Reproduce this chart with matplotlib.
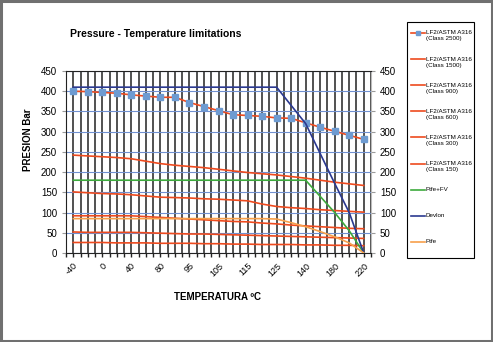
import matplotlib
matplotlib.use("Agg")
import matplotlib.pyplot as plt
from matplotlib.lines import Line2D
from matplotlib.patches import Rectangle
import numpy as np

plt.rcParams['font.family'] = ['Liberation Sans', 'DejaVu Sans']

# categories (only every second one is labelled on the axis)
temps = ["-40", "-20", "0", "20", "40", "60", "80", "90", "95", "100", "105",
         "110", "115", "120", "125", "130", "140", "160", "180", "200", "220"]

class_2500 = [400, 399, 397, 395, 391, 388, 385, 385, 372, 362, 352,
              342, 340, 338, 334, 333, 322, 311, 301, 291, 281]
class_1500 = [242, 240, 238, 236, 233, 227, 221, 217, 214, 211, 207,
              203, 199, 196, 193, 189, 185, 180, 175, 171, 167]
class_900 = [151, 149, 147, 146, 144, 141, 138, 137, 136, 134, 133,
             131, 129, 121, 115, 112, 110, 107, 105, 103, 101]
class_600 = [92, 92, 92, 92, 92, 90, 88, 86, 84, 82, 80,
             78, 77, 74, 72, 69, 67, 65, 63, 61, 60]
class_300 = [52, 51, 51, 51, 51, 50, 49, 48, 47, 47, 46,
             45, 44, 43, 42, 41, 40, 39, 38, 37, 36]
class_150 = [26, 26, 26, 25, 25, 25, 24, 24, 24, 23, 23,
             22, 22, 21, 21, 21, 20, 20, 19, 19, 18]
ptfe_fv = [180, 180, 180, 180, 180, 180, 180, 180, 180, 180, 180,
           180, 180, 180, 180, 180, 180, 140, 100, 55, 0]
devlon = [410, 410, 410, 410, 410, 410, 410, 410, 410, 410, 410,
          410, 410, 410, 410, 365, 320, 246, 172, 100, 0]
ptfe = [85, 85, 85, 85, 85, 85, 85, 85, 85, 85, 85,
        85, 85, 85, 84, 75, 65, 53, 40, 25, 0]

RED = "#EE4A1E"
series = [
    ("LF2/ASTM A316", "(Class 2500)", class_2500, RED),
    ("LF2/ASTM A316", "(Class 1500)", class_1500, RED),
    ("LF2/ASTM A316", "(Class 900)", class_900, RED),
    ("LF2/ASTM A316", "(Class 600)", class_600, RED),
    ("LF2/ASTM A316", "(Class 300)", class_300, RED),
    ("LF2/ASTM A316", "(Class 150)", class_150, RED),
    ("Ptfe+FV", None, ptfe_fv, "#3DAA3D"),
    ("Devlon", None, devlon, "#2B3990"),
    ("Ptfe", None, ptfe, "#F7A04B"),
]
MARKER_COLOR = "#6E9BD1"

W, H = 493, 342
fig = plt.figure(figsize=(W / 100, H / 100), dpi=100)
ax = fig.add_axes([66 / W, 1 - 253 / H, 305 / W, 182 / H])

x = np.arange(len(temps))
for i, (l1, l2, vals, col) in enumerate(series):
    if i == 0:
        ax.plot(x, vals, color=col, lw=1.2, marker="s", ms=4.2,
                mfc=MARKER_COLOR, mec=MARKER_COLOR, zorder=3)
    else:
        ax.plot(x, vals, color=col, lw=1.2, zorder=3)

ax.set_xlim(-0.5, len(temps) - 0.5)
ax.set_ylim(0, 450)
ax.set_xticks(x[::2])
ax.set_xticklabels(temps[::2], rotation=45, ha="right", rotation_mode="anchor",
                   fontsize=6.5)
ax.set_xticks(np.arange(-0.5, len(temps), 0.5), minor=True)
ax.set_yticks(np.arange(0, 451, 50))
ax.tick_params(axis="y", labelsize=7, length=3, labelright=True, right=True,
               colors="black")
ax.tick_params(axis="y", which="both", right=True, color="#999999")
ax.tick_params(axis="x", which="both", length=3, width=1, color="#222222")
ax.tick_params(axis="x", which="major", pad=3)

ax.grid(axis="x", which="both", color="#222222", lw=1.1)
ax.grid(axis="y", which="major", color="#7090D0", lw=0.8)
ax.set_axisbelow(True)

for s in ["left", "bottom", "top"]:
    ax.spines[s].set_color("#222222")
ax.spines["right"].set_color("#BBBBBB")

fig.text(70 / W, 1 - 34 / H, "Pressure - Temperature limitations",
         fontsize=7.5, fontweight="bold", va="center", ha="left")
fig.text(218 / W, 1 - 297 / H, "TEMPERATURA ºC", fontsize=7,
         fontweight="bold", ha="center", va="center")
fig.text(28 / W, 1 - 140 / H, "PRESION Bar", fontsize=7, fontweight="bold",
         rotation=90, ha="center", va="center")

# legend box drawn by hand (Excel style spacing)
fig.patches.append(Rectangle((407 / W, 1 - 258 / H), 67 / W, 236 / H,
                             transform=fig.transFigure, fill=False,
                             edgecolor="black", lw=0.8))
for i, (l1, l2, vals, col) in enumerate(series):
    yy = 1 - (33 + 26.1 * i) / H
    fig.lines.append(Line2D([411 / W, 425 / W], [yy, yy], color=col, lw=1.2,
                            transform=fig.transFigure))
    if i == 0:
        fig.lines.append(Line2D([418 / W], [yy], marker="s", ms=2.5,
                                color=MARKER_COLOR, transform=fig.transFigure))
    fig.text(426 / W, yy, l1, fontsize=4.5, va="center", ha="left")
    if l2:
        fig.text(426 / W, yy - 6 / H, l2, fontsize=4.5, va="center", ha="left")

# outer frame
fig.patches.append(Rectangle((1 / W, 1 / H), (W - 2) / W, (H - 2) / H,
                             transform=fig.transFigure, fill=False,
                             edgecolor="#707070", lw=2.2))

fig.savefig("out.png", dpi=100)
